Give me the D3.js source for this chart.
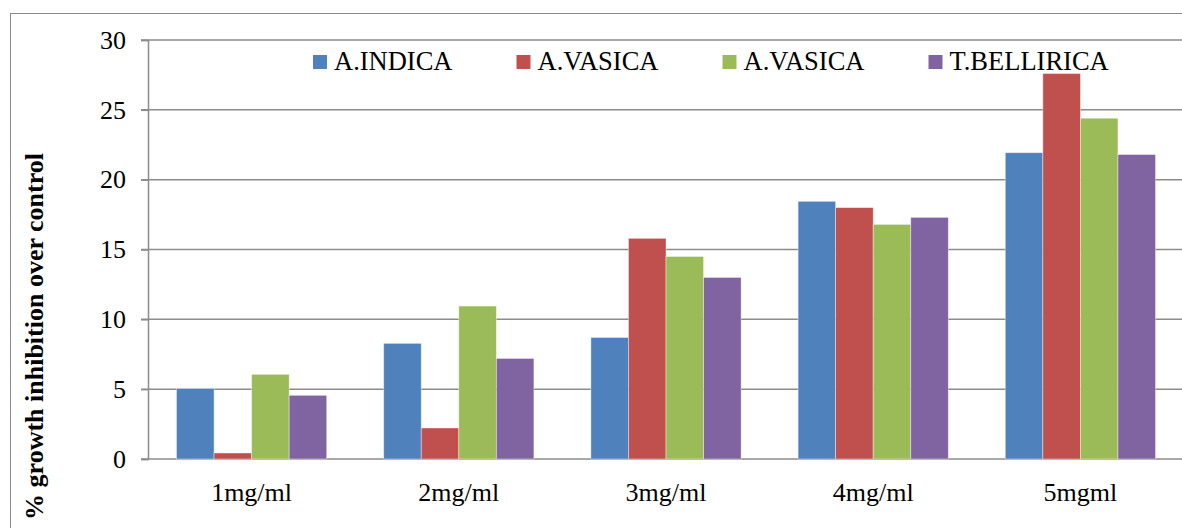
<!DOCTYPE html>
<html>
<head>
<meta charset="utf-8">
<script src="https://cdn.jsdelivr.net/npm/d3@7/dist/d3.min.js"></script>
<style>
  body { margin: 0; background: #fff; }
  svg { display: block; }
  text { font-family: "Liberation Serif", "Times New Roman", serif; fill: #000; }
</style>
</head>
<body>
<script>
const categories = ["1mg/ml", "2mg/ml", "3mg/ml", "4mg/ml", "5mgml"];
const seriesNames = ["A.INDICA", "A.VASICA", "A.VASICA", "T.BELLIRICA"];
const seriesA = [5.05, 8.28, 8.7, 18.45, 21.93];
const seriesB = [0.43, 2.22, 15.8, 18.0, 27.6];
const seriesC = [6.06, 10.95, 14.5, 16.8, 24.4];
const seriesD = [4.56, 7.2, 13.0, 17.3, 21.8];
const yTicks = [0, 5, 10, 15, 20, 25, 30];
const colors = ["#4F81BD", "#C0504D", "#9BBB59", "#8064A2"];
const yTitle = "% growth inhibition over control";

const series = [seriesA, seriesB, seriesC, seriesD];
const W = 1182, H = 528;
const svg = d3.select("body").append("svg").attr("width", W).attr("height", H);

// outer frame
svg.append("rect").attr("x", 10.5).attr("y", 13.5).attr("width", 1300).attr("height", 600)
  .attr("fill", "none").attr("stroke", "#8a8a8a").attr("stroke-width", 1);

const x0 = d3.scaleBand().domain(categories).range([148, 1184]).paddingInner(0.275).paddingOuter(0.1375);
const x1 = d3.scaleBand().domain(d3.range(series.length)).range([0, x0.bandwidth()]);
const y = d3.scaleLinear().domain([0, 30]).range([459, 40]);

// gridlines
svg.append("g").selectAll("line").data(yTicks).join("line")
  .attr("x1", 141).attr("x2", 1184)
  .attr("y1", d => y(d)).attr("y2", d => y(d))
  .attr("stroke", "#8c8c8c").attr("stroke-width", 1.5);

// bars
const groups = svg.append("g").selectAll("g").data(categories).join("g")
  .attr("transform", d => `translate(${x0(d)},0)`);
groups.selectAll("rect").data((c, i) => series.map((s, k) => ({k, v: s[i]}))).join("rect")
  .attr("x", d => x1(d.k)).attr("width", x1.bandwidth())
  .attr("y", d => y(d.v)).attr("height", d => y(0) - y(d.v))
  .attr("fill", d => colors[d.k]).attr("stroke", "rgba(255,255,255,0.5)").attr("stroke-width", 0.8);

// y axis
const yAxis = d3.axisLeft(y).tickValues(yTicks).tickSize(7).tickPadding(15).tickFormat(d3.format("d"));
const ga = svg.append("g").attr("transform", "translate(148,0)").call(yAxis);
ga.select(".domain").attr("stroke", "#8c8c8c").attr("stroke-width", 1.5);
ga.selectAll(".tick line").attr("stroke", "#8c8c8c").attr("stroke-width", 1.5);
ga.selectAll(".tick text").style("font-family", "Liberation Serif").style("font-size", "26px").attr("fill", "#000");

// x axis labels
const xAxis = d3.axisBottom(x0).tickSize(0).tickPadding(24);
const gx = svg.append("g").attr("transform", "translate(0,459)").call(xAxis);
gx.select(".domain").remove();
gx.selectAll(".tick text").style("font-family", "Liberation Serif").style("font-size", "26px").attr("fill", "#000");

// y title
svg.append("text").attr("transform", "translate(43,153) rotate(-90)")
  .attr("text-anchor", "end").style("font-size", "26px").style("font-weight", "bold")
  .text(yTitle);

// legend
let lx = 313;
const leg = svg.append("g");
seriesNames.forEach((name, k) => {
  leg.append("rect").attr("x", lx).attr("y", 55).attr("width", 14).attr("height", 14).attr("fill", colors[k]);
  const t = leg.append("text").attr("x", lx + 21).attr("y", 70).style("font-size", "26.5px").text(name);
  lx += 21 + t.node().getComputedTextLength() + 64;
});
</script>
</body>
</html>
